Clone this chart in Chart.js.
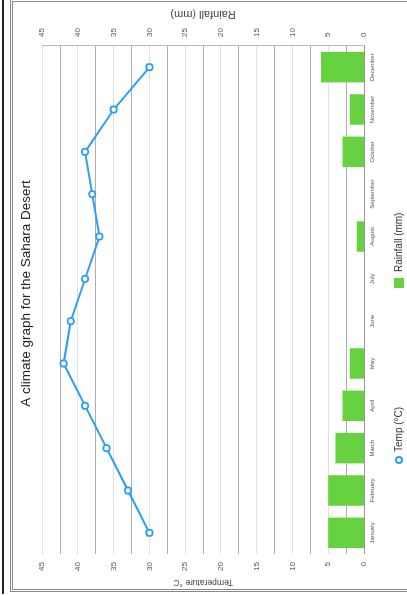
<!DOCTYPE html>
<html>
<head>
<meta charset="utf-8">
<script src="https://cdn.jsdelivr.net/npm/chart.js@4.4.1/dist/chart.umd.min.js"></script>
<style>
  html, body { margin: 0; padding: 0; background: #fff; }
  body { width: 407px; height: 596px; position: relative; overflow: hidden; font-family: 'Liberation Sans', Arial, sans-serif; }
  #blackLine { position: absolute; left: 2px; top: 0; width: 2px; height: 594px; background: #222; }
  #frame { position: absolute; left: 10px; top: -1px; width: 420px; height: 587px; border: 3px double #888; }
  #wrap { position: absolute; left: 0; top: 0; width: 596px; height: 407px;
          transform-origin: 0 0; transform: translateY(596px) rotate(-90deg); }
  #cv { position: absolute; left: 0; top: 0; }
  .lg { position: absolute; font-size: 10px; color: #333; line-height: 12px; white-space: nowrap; }
  .mk { position: absolute; box-sizing: border-box; }
</style>
</head>
<body>
<div id="blackLine"></div>
<div id="frame"></div>
<div id="wrap">
  <canvas id="cv" width="596" height="407"></canvas>
  <div class="mk" id="mkTemp" style="left:132px; top:395px; width:8px; height:8px; border:2px solid #2f9ff3; border-radius:50%; background:#fff;"></div>
  <div class="lg" id="lgTemp" style="left:144px; top:393px;"></div>
  <div class="mk" id="mkRain" style="left:308px; top:394px; width:10px; height:10px; background:#66d23f;"></div>
  <div class="lg" id="lgRain" style="left:324px; top:393px;"></div>
</div>
<script>
const chartTitle = 'A climate graph for the Sahara Desert';
const months = ['January', 'February', 'March', 'April', 'May', 'June',
                'July', 'August', 'September', 'October', 'November', 'December'];
const tempC = [30, 33, 36, 39, 42, 41, 39, 37, 38, 39, 35, 30];
const rainMm = [5, 5, 4, 3, 2, 0, 0, 1, 0, 3, 2, 6];
const tempLabel = 'Temp (°C)';
const rainLabel = 'Rainfall (mm)';
const tempAxisTitle = 'Temperature °C';
const rainAxisTitle = 'Rainfall (mm)';
const axisMin = 0;
const axisMax = 45;
const labelStep = 5;

const blue = '#2f9ff3';
const green = '#66d23f';

document.getElementById('lgTemp').textContent = tempLabel;
document.getElementById('lgRain').textContent = rainLabel;

// right axis title reads the same way as the left one
const rightTitle = {
    id: 'rightTitle',
    afterDraw(chart) {
        const s = chart.scales.y1;
        const ctx = chart.ctx;
        ctx.save();
        ctx.translate(s.right - 14, (s.top + s.bottom) / 2);
        ctx.rotate(-Math.PI / 2);
        ctx.font = "11px 'Liberation Sans', Arial, sans-serif";
        ctx.fillStyle = '#444';
        ctx.textAlign = 'center';
        ctx.textBaseline = 'middle';
        ctx.fillText(rainAxisTitle, 0, 0);
        ctx.restore();
    }
};

const ctx = document.getElementById('cv').getContext('2d');
new Chart(ctx, {
    type: 'bar',
    data: {
        labels: months,
        datasets: [
            {
                type: 'line',
                label: tempLabel,
                data: tempC,
                yAxisID: 'y',
                borderColor: blue,
                borderWidth: 2,
                pointRadius: 3.2,
                pointBorderWidth: 1.8,
                pointBackgroundColor: '#fff',
                pointBorderColor: blue,
                tension: 0,
                order: 0
            },
            {
                type: 'bar',
                label: rainLabel,
                data: rainMm,
                yAxisID: 'y1',
                backgroundColor: green,
                barPercentage: 0.72,
                categoryPercentage: 1,
                order: 1
            }
        ]
    },
    options: {
        responsive: false,
        animation: false,
        layout: { padding: { left: 9, top: 10, right: 0, bottom: 29 } },
        plugins: {
            legend: { display: false },
            tooltip: { enabled: false },
            title: {
                display: true,
                text: chartTitle,
                color: '#222',
                font: { family: "'Liberation Sans', Arial, sans-serif", size: 13.5, weight: 'normal' },
                padding: { top: 8, bottom: 8 }
            }
        },
        scales: {
            x: {
                offset: true,
                grid: { display: false, drawTicks: false },
                border: { display: true, color: '#999' },
                ticks: {
                    autoSkip: false, maxRotation: 0, minRotation: 0, padding: 5,
                    color: '#555',
                    font: { family: "'Liberation Sans', Arial, sans-serif", size: 6 }
                },
                afterFit: (s) => { s.height = 14; }
            },
            y: {
                position: 'left',
                min: axisMin,
                max: axisMax,
                border: { display: false },
                grid: {
                    drawTicks: false,
                    color: (c) => (c.tick && c.tick.value % labelStep === 0) ? '#e0e0e0' : '#aeaeae'
                },
                ticks: {
                    stepSize: labelStep / 2,
                    padding: 8,
                    color: '#555',
                    font: { family: "'Liberation Sans', Arial, sans-serif", size: 8 },
                    callback: (v) => (v % labelStep === 0 ? v : '')
                },
                title: {
                    display: true,
                    text: tempAxisTitle,
                    color: '#444',
                    padding: 0,
                    font: { family: "'Liberation Sans', Arial, sans-serif", size: 8.5 }
                },
                afterFit: (s) => { s.width = 33; }
            },
            y1: {
                position: 'right',
                min: axisMin,
                max: axisMax,
                border: { display: true, color: '#bbb' },
                grid: { display: false, drawTicks: false },
                ticks: {
                    stepSize: labelStep,
                    padding: 9,
                    color: '#555',
                    font: { family: "'Liberation Sans', Arial, sans-serif", size: 8 }
                },
                afterFit: (s) => { s.width = 46; }
            }
        }
    },
    plugins: [rightTitle]
});
</script>
</body>
</html>
